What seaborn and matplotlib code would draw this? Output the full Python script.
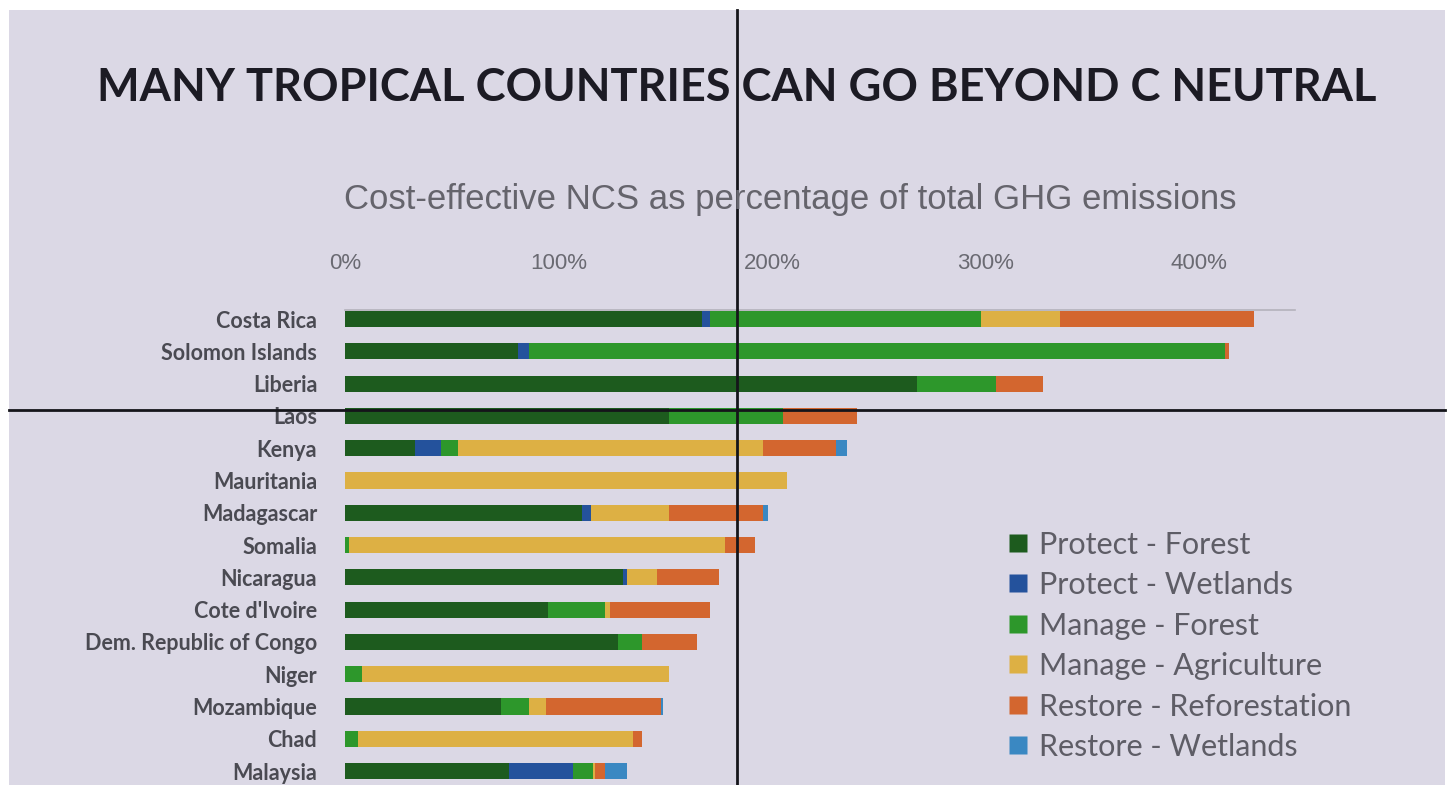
import matplotlib
matplotlib.use("Agg")
import pandas as pd
import seaborn as sns
import matplotlib.pyplot as plt
from matplotlib.lines import Line2D
from matplotlib.patches import Rectangle
from matplotlib.ticker import FuncFormatter

# cost-effective NCS as % of total GHG emissions
countries = ["Costa Rica", "Solomon Islands", "Liberia", "Laos", "Kenya",
             "Mauritania", "Madagascar", "Somalia", "Nicaragua", "Cote d'Ivoire",
             "Dem. Republic of Congo", "Niger", "Mozambique", "Chad", "Malaysia"]

protect_forest = [167, 81, 268, 152, 33, 0, 111, 0, 130, 95, 128, 0, 73, 0, 77]
protect_wetlands = [4, 5, 0, 0, 12, 0, 4, 0, 2, 0, 0, 0, 0, 0, 30]
manage_forest = [127, 326, 37, 53, 8, 0, 0, 2, 0, 27, 11, 8, 13, 6, 9]
manage_agriculture = [37, 0, 0, 0, 143, 207, 37, 176, 14, 2, 0, 144, 8, 129, 1]
restore_reforestation = [91, 2, 22, 35, 34, 0, 44, 14, 29, 47, 26, 0, 54, 4, 5]
restore_wetlands = [0, 0, 0, 0, 5, 0, 2, 0, 0, 0, 0, 0, 1, 0, 10]

series = ["Protect - Forest", "Protect - Wetlands", "Manage - Forest",
          "Manage - Agriculture", "Restore - Reforestation", "Restore - Wetlands"]
colors = ["#1d5b1e", "#24529c", "#2d972b", "#ddb044", "#d3662f", "#3a88c2"]

df = pd.DataFrame({
    "Country": countries,
    series[0]: protect_forest,
    series[1]: protect_wetlands,
    series[2]: manage_forest,
    series[3]: manage_agriculture,
    series[4]: restore_reforestation,
    series[5]: restore_wetlands,
})
cum = df[series].cumsum(axis=1)
cum["Country"] = df["Country"]

bg = "#dbd8e5"
fig = plt.figure(figsize=(14.52, 7.85), dpi=100, facecolor="white")
fig.add_artist(Rectangle((9 / 1452, 0), (1445 - 9) / 1452, 1 - 10 / 785,
                         transform=fig.transFigure, facecolor=bg,
                         edgecolor="none", zorder=0))

ax = fig.add_axes([345 / 1452, 0, (1295 - 345) / 1452, 1 - 310 / 785])
ax.set_facecolor("none")

# stacked bars: draw the running totals from the back to the front
for name, col in reversed(list(zip(series, colors))):
    sns.barplot(data=cum, x=name, y="Country", orient="h", color=col,
                saturation=1, width=0.5, ax=ax, linewidth=0)

ax.set_xlim(0, 445)
ax.set_ylim(14.43, -0.28)
ax.set_xticks([0, 100, 200, 300, 400])
ax.xaxis.set_major_formatter(FuncFormatter(lambda v, p: f"{v:.0f}%"))
ax.xaxis.tick_top()
ax.tick_params(axis="x", length=0, pad=26, labelsize=16, labelcolor="#6a6a72")
ax.tick_params(axis="y", length=0, pad=20, labelsize=15.5, labelcolor="#4a4a52")
for lab in ax.get_xticklabels():
    lab.set_fontfamily("Liberation Sans")
for lab in ax.get_yticklabels():
    lab.set_fontfamily("Lato")
    lab.set_fontweight("bold")
ax.set_xlabel("")
ax.set_ylabel("")
for side in ["bottom", "left", "right"]:
    ax.spines[side].set_visible(False)
ax.spines["top"].set_color("#b4b2bc")
ax.spines["top"].set_linewidth(1.2)

fig.text(737 / 1452, 1 - 88 / 785, "MANY TROPICAL COUNTRIES CAN GO BEYOND C NEUTRAL",
         ha="center", va="center", fontsize=32.5, fontweight="bold",
         family="Lato", color="#1c1b24")
fig.text(790 / 1452, 1 - 200 / 785, "Cost-effective NCS as percentage of total GHG emissions",
         ha="center", va="center", fontsize=25, family="Liberation Sans",
         color="#65646c")

handles = [Line2D([], [], marker="s", linestyle="none", markersize=13,
                  markerfacecolor=c, markeredgecolor="none") for c in colors]
fig.legend(handles, series, loc="upper left",
           bbox_to_anchor=(978 / 1452, 1 - 503 / 785), frameon=False,
           prop={"family": "Lato", "size": 22}, labelcolor="#5e5d66",
           handletextpad=0.3, labelspacing=0.41, handlelength=0.8)

# frame lines visible in the photo of the screen
fig.add_artist(Line2D([737 / 1452, 737 / 1452], [0, 1 - 10 / 785],
                      transform=fig.transFigure, color="#15151a", lw=2))
fig.add_artist(Line2D([9 / 1452, 1445 / 1452], [1 - 410 / 785, 1 - 410 / 785],
                      transform=fig.transFigure, color="#15151a", lw=2))

fig.savefig("out.png", dpi=100, facecolor=fig.get_facecolor())
